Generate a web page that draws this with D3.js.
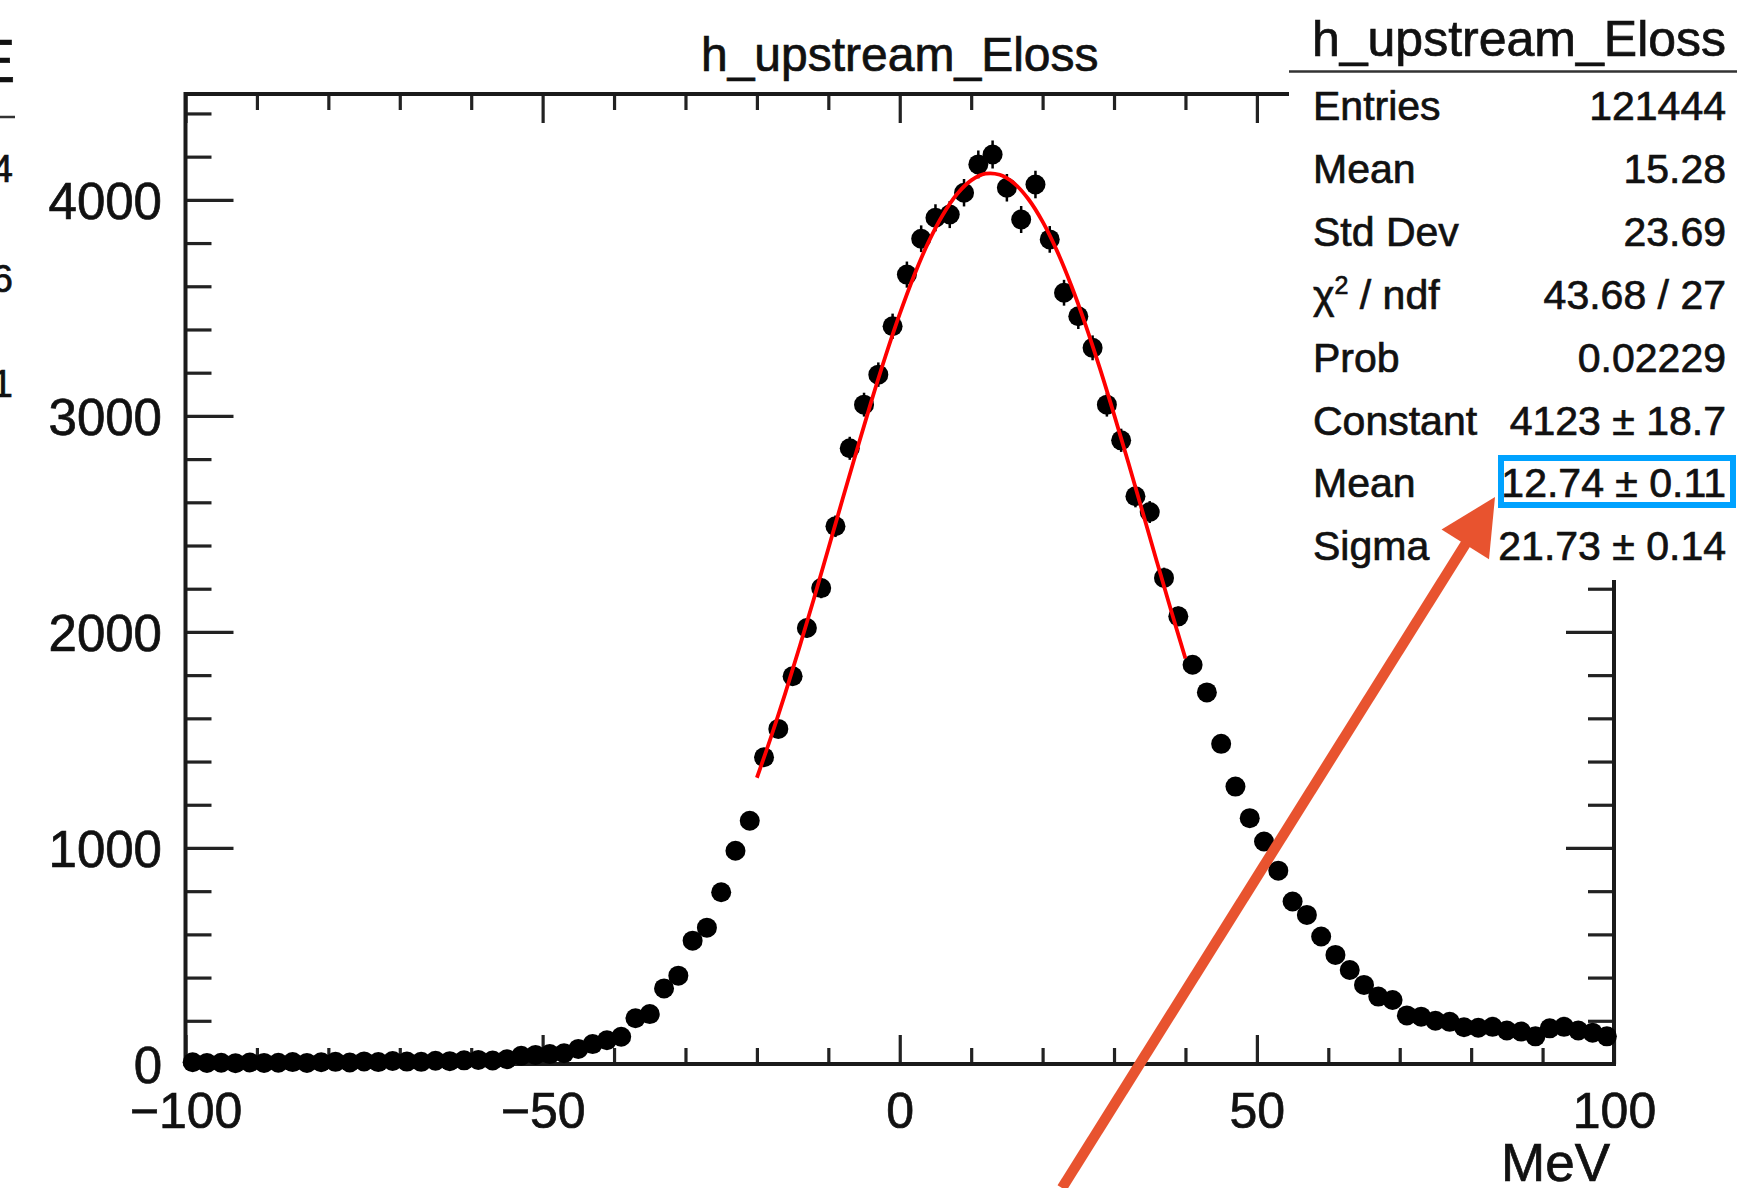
<!DOCTYPE html>
<html><head><meta charset="utf-8">
<script src="https://cdn.jsdelivr.net/npm/d3@7"></script>
<style>
html,body{margin:0;padding:0;background:#fff;}
svg{display:block;}
text{stroke:#111;stroke-width:0.7px;}
</style></head><body>
<svg id="c" width="1737" height="1188"></svg>
<script>
// ---------- data ----------
const binCenters = d3.range(-99, 100, 2); // 100 bins of 2 MeV, -100..100
const counts = [
  8,5,6,4,7,5,6,9,5,8,10,7,12,9,14,11,10,15,13,17,19,16,22,38,42,
  46,50,70,92,110,126,212,231,350,409,571,631,795,987,1126,1420,1551,1795,2018,2203,2489,2850,3052,3191,3415,
  3654,3820,3917,3932,4033,4164,4210,4056,3909,4071,3817,3570,3461,3315,3052,2887,2628,2555,2250,2072,1848,1720,1482,1284,1138,
  1030,895,752,690,590,505,435,366,312,296,225,219,200,195,170,168,172,155,150,128,165,172,155,145,128
];
const fitX = d3.range(-20, 41, 2);
const fitY = [1325,1516,1719,1934,2156,2385,2615,2842,3065,3276,3472,3649,3803,3929,4026,4090,
              4121,4116,4077,4004,3899,3765,3605,3423,3222,3007,2784,2555,2325,2098,1877];
const xMajorTicks = [-100,-50,0,50,100];
const xMinorTicks = [-90,-80,-70,-60,-40,-30,-20,-10,10,20,30,40,60,70,80,90];
const yMajorTicks = [0,1000,2000,3000,4000];
const yMinorTicks = [200,400,600,800,1200,1400,1600,1800,2200,2400,2600,2800,3200,3400,3600,3800,4200,4400];
const chartTitle = "h_upstream_Eloss";
const xAxisTitle = "MeV";
const statsTitle = "h_upstream_Eloss";
const statsLabels = ["Entries","Mean","Std Dev","χ2 / ndf","Prob","Constant","Mean","Sigma"];
const statsValues = ["121444","15.28","23.69","43.68 / 27","0.02229","4123 ± 18.7","12.74 ± 0.11","21.73 ± 0.14"];
const leftFragments = ["4","6","1"];

// ---------- layout ----------
const FONT = "'Liberation Sans', Arial, Helvetica, sans-serif";
const INK = "#111";
const frame = {left:185.5, right:1614, top:94, bottom:1064};
const svg = d3.select("#c");
svg.append("rect").attr("width",1737).attr("height",1188).attr("fill","#fff");

const x = d3.scaleLinear().domain([-100,100]).range([frame.left, frame.right]);
const y = d3.scaleLinear().domain([0,4490]).range([frame.bottom, frame.top]);

function styleAxis(g, lw){
  g.select(".domain").remove();
  g.selectAll(".tick line").attr("stroke","#222").attr("stroke-width",lw);
  g.attr("font-family",FONT);
}
// bottom axis
const gb = svg.append("g").attr("transform",`translate(0,${frame.bottom})`)
  .call(d3.axisBottom(x).tickValues(xMajorTicks).tickSize(-29).tickFormat(d3.format("d")));
styleAxis(gb,3.2);
gb.attr("font-size",50);
gb.selectAll("text").attr("y",64).attr("dy",null).attr("fill",INK);
const gbm = svg.append("g").attr("transform",`translate(0,${frame.bottom})`)
  .call(d3.axisBottom(x).tickValues(xMinorTicks).tickSize(-16).tickFormat(""));
styleAxis(gbm,3.2);
// top axis
const gt = svg.append("g").attr("transform",`translate(0,${frame.top})`)
  .call(d3.axisTop(x).tickValues(xMajorTicks).tickSize(-29).tickFormat(""));
styleAxis(gt,3.2);
const gtm = svg.append("g").attr("transform",`translate(0,${frame.top})`)
  .call(d3.axisTop(x).tickValues(xMinorTicks).tickSize(-16).tickFormat(""));
styleAxis(gtm,3.2);
// left axis
const gl = svg.append("g").attr("transform",`translate(${frame.left},0)`)
  .call(d3.axisLeft(y).tickValues(yMajorTicks).tickSize(-48).tickFormat(d3.format("d")));
styleAxis(gl,3.2);
gl.attr("font-size",51);
gl.selectAll("text").attr("x",-23.5).attr("dy","0.36em").attr("fill",INK);
const glm = svg.append("g").attr("transform",`translate(${frame.left},0)`)
  .call(d3.axisLeft(y).tickValues(yMinorTicks).tickSize(-26).tickFormat(""));
styleAxis(glm,3.2);
// right axis
const gr = svg.append("g").attr("transform",`translate(${frame.right},0)`)
  .call(d3.axisRight(y).tickValues(yMajorTicks).tickSize(-48).tickFormat(""));
styleAxis(gr,3.2);
const grm = svg.append("g").attr("transform",`translate(${frame.right},0)`)
  .call(d3.axisRight(y).tickValues(yMinorTicks).tickSize(-26).tickFormat(""));
styleAxis(grm,3.2);

// frame
svg.append("rect").attr("x",frame.left).attr("y",frame.top)
  .attr("width",frame.right-frame.left).attr("height",frame.bottom-frame.top)
  .attr("fill","none").attr("stroke","#1a1a1a").attr("stroke-width",4);

// data: error bars + markers
const data = binCenters.map((c,i)=>({c, v:counts[i]}));
svg.append("g").selectAll("line").data(data).join("line")
  .attr("x1",d=>x(d.c)).attr("x2",d=>x(d.c))
  .attr("y1",d=>y(d.v+Math.sqrt(d.v))).attr("y2",d=>y(Math.max(0,d.v-Math.sqrt(d.v))))
  .attr("stroke","#000").attr("stroke-width",2.5);
svg.append("g").selectAll("circle").data(data).join("circle")
  .attr("cx",d=>x(d.c)).attr("cy",d=>y(d.v)).attr("r",10).attr("fill","#000");

// fit curve
const fitData = fitX.map((fx,i)=>[fx,fitY[i]]);
svg.append("path").datum(fitData)
  .attr("d", d3.line().x(d=>x(d[0])).y(d=>y(d[1])).curve(d3.curveCatmullRom))
  .attr("fill","none").attr("stroke","#ff0000").attr("stroke-width",3.8);

// title
svg.append("text").attr("x",(frame.left+frame.right)/2).attr("y",71)
  .attr("text-anchor","middle").attr("font-family",FONT).attr("font-size",48).attr("fill",INK)
  .text(chartTitle);
// x axis title
svg.append("text").attr("x",1610).attr("y",1181)
  .attr("text-anchor","end").attr("font-family",FONT).attr("font-size",53).attr("fill",INK)
  .text(xAxisTitle);

// stats box
const sb = svg.append("g");
sb.append("rect").attr("x",1289).attr("y",-5).attr("width",460).attr("height",585).attr("fill","#fff");
sb.append("text").attr("x",1519).attr("y",56).attr("text-anchor","middle")
  .attr("font-family",FONT).attr("font-size",50).attr("fill",INK).text(statsTitle);
sb.append("line").attr("x1",1289).attr("x2",1737).attr("y1",71.5).attr("y2",71.5)
  .attr("stroke","#333").attr("stroke-width",2.5);
statsLabels.forEach((lab,i)=>{
  const yy = 120 + i*62.9;
  const t = sb.append("text").attr("x",1313).attr("y",yy)
    .attr("font-family",FONT).attr("font-size",41).attr("fill",INK);
  if (lab.startsWith("χ2")) {
    t.append("tspan").text("χ");
    t.append("tspan").attr("font-size",25).attr("dy",-15).text("2");
    t.append("tspan").attr("dy",15).text(" / ndf");
  } else t.text(lab);
  sb.append("text").attr("x",1726).attr("y",yy).attr("text-anchor","end")
    .attr("font-family",FONT).attr("font-size",41).attr("fill",INK).text(statsValues[i]);
});

// cropped fragments of another box at the left edge
svg.append("text").attr("x",-26).attr("y",82).attr("font-family",FONT).attr("font-size",62).attr("fill",INK).text("E");
svg.append("line").attr("x1",0).attr("x2",15).attr("y1",117).attr("y2",117).attr("stroke","#333").attr("stroke-width",2.5);
leftFragments.forEach((t,i)=>{
  svg.append("text").attr("x",13).attr("y",[182,292,397][i]).attr("text-anchor","end")
    .attr("font-family",FONT).attr("font-size",38).attr("fill",INK).text(t);
});

// annotations: blue highlight box + red arrow
svg.append("rect").attr("x",1501).attr("y",458).attr("width",232).attr("height",47)
  .attr("fill","none").attr("stroke","#00a2ff").attr("stroke-width",6);
const tail = [1062,1188], tip = [1495,497];
const dx = tip[0]-tail[0], dy = tip[1]-tail[1], L = Math.hypot(dx,dy);
const ux = dx/L, uy = dy/L, px = -uy, py = ux;
const headLen = 56, headHalf = 28;
const base = [tip[0]-ux*headLen, tip[1]-uy*headLen];
const ARROW = "#e8532f";
svg.append("line").attr("x1",tail[0]).attr("y1",tail[1]).attr("x2",base[0]+ux*4).attr("y2",base[1]+uy*4)
  .attr("stroke",ARROW).attr("stroke-width",10.5);
svg.append("polygon").attr("points",[
  tip, [base[0]+px*headHalf, base[1]+py*headHalf], [base[0]-px*headHalf, base[1]-py*headHalf]
].map(p=>p.join(",")).join(" ")).attr("fill",ARROW);
</script>
</body></html>
